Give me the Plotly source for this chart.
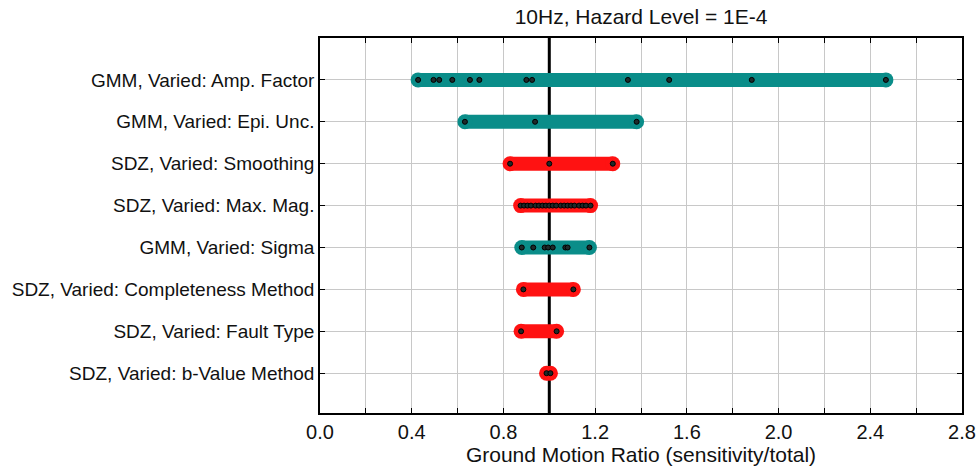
import plotly.graph_objects as go

# Sensitivity cases, top to bottom
categories = [
    "GMM, Varied: Amp. Factor",
    "GMM, Varied: Epi. Unc.",
    "SDZ, Varied: Smoothing",
    "SDZ, Varied: Max. Mag.",
    "GMM, Varied: Sigma",
    "SDZ, Varied: Completeness Method",
    "SDZ, Varied: Fault Type",
    "SDZ, Varied: b-Value Method",
]
groups = ["GMM", "GMM", "SDZ", "SDZ", "GMM", "SDZ", "SDZ", "SDZ"]

# Ground-motion ratios (sensitivity/total) for each branch
amp_factor = [0.428, 0.495, 0.52, 0.577, 0.654, 0.695, 0.90, 0.925, 1.343, 1.523, 1.883, 2.468]
epi_unc = [0.632, 0.938, 1.381]
smoothing = [0.829, 1.0, 1.277]
max_mag = [0.875, 0.89, 0.905, 0.92, 0.94, 0.955, 0.97, 0.985, 1.0, 1.015,
           1.03, 1.05, 1.065, 1.08, 1.095, 1.11, 1.13, 1.145, 1.16, 1.18]
sigma = [0.88, 0.93, 0.98, 0.995, 1.015, 1.07, 1.08, 1.175]
completeness = [0.887, 1.105]
fault_type = [0.877, 1.032]
b_value = [0.988, 1.005]

series = [amp_factor, epi_unc, smoothing, max_mag, sigma, completeness, fault_type, b_value]

x_ticks = [0.0, 0.2, 0.4, 0.6, 0.8, 1.0, 1.2, 1.4, 1.6, 1.8, 2.0, 2.2, 2.4, 2.6, 2.8]
x_labels = ["0.0", "", "0.4", "", "0.8", "", "1.2", "", "1.6", "", "2.0", "", "2.4", "", "2.8"]
reference_ratio = 1.0

colors = {"GMM": "#0a8d89", "SDZ": "#ff1212"}

n = len(categories)
y_pos = [n - i for i in range(n)]
y_range = [0.05, n + 1]

fig = go.Figure()

# Ratio = 1 reference line, drawn first so the bars sit on top of it
fig.add_trace(go.Scatter(
    x=[reference_ratio, reference_ratio], y=y_range, mode="lines",
    line=dict(color="black", width=3), hoverinfo="skip", showlegend=False,
    cliponaxis=False,
))

# Rounded range bars
for vals, grp, y in zip(series, groups, y_pos):
    lo, hi = min(vals), max(vals)
    fig.add_trace(go.Scatter(
        x=[lo, hi], y=[y, y], mode="lines+markers",
        line=dict(color=colors[grp], width=14),
        marker=dict(color=colors[grp], size=15, line=dict(width=0)),
        hoverinfo="skip", showlegend=False,
    ))

# Individual branch values
for vals, cat, y in zip(series, categories, y_pos):
    fig.add_trace(go.Scatter(
        x=vals, y=[y] * len(vals), mode="markers",
        marker=dict(symbol="circle", size=5, color="#1e2a2a",
                    line=dict(color="#000000", width=1)),
        name=cat, showlegend=False,
    ))

font_main = "Liberation Sans, Arial, sans-serif"

fig.update_layout(
    width=979, height=470,
    margin=dict(l=320, r=17, t=38, b=57),
    plot_bgcolor="white", paper_bgcolor="white",
    title=dict(text="10Hz, Hazard Level = 1E-4", x=(320 + 962) / 2 / 979, xanchor="center",
               y=1 - 17 / 470, yanchor="middle",
               font=dict(family=font_main, size=21, color="#111111")),
    xaxis=dict(
        range=[0, 2.8], tickvals=x_ticks, ticktext=x_labels, automargin=False,
        showgrid=True, gridcolor="#c8c8c8", gridwidth=1,
        showline=True, linecolor="black", linewidth=1.5, mirror="ticks",
        ticks="inside", ticklen=5, tickcolor="black",
        tickfont=dict(family=font_main, size=20, color="#111111"),
        title=dict(text="Ground Motion Ratio (sensitivity/total)", standoff=4,
                   font=dict(family=font_main, size=21, color="#111111")),
        zeroline=False,
    ),
    yaxis=dict(
        range=y_range, tickvals=y_pos, ticktext=categories, automargin=False,
        showgrid=True, gridcolor="#c8c8c8", gridwidth=1,
        showline=True, linecolor="black", linewidth=1.5, mirror="ticks",
        ticks="inside", ticklen=5, tickcolor="black",
        tickfont=dict(family=font_main, size=19, color="#111111"),
        zeroline=False,
    ),
)

fig.write_html("out.html")
